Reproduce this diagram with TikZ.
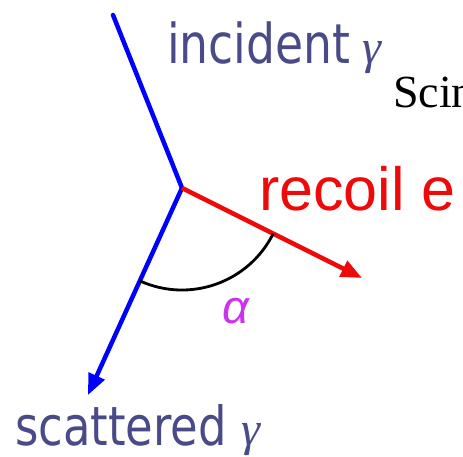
\documentclass[tikz,border=0pt]{standalone}
\usepackage{fontspec}
\usetikzlibrary{arrows.meta}
\newfontfamily\labelfont[FakeStretch=0.83]{DejaVu Sans}
\newfontfamily\recoilfont{Liberation Sans}
\newfontfamily\detfont{Liberation Serif}
\newcommand\grkfont{\detfont\itshape\fontsize{48}{48}\selectfont}

\definecolor{gamBlue}{HTML}{0000FF}
\definecolor{eleRed}{HTML}{EE0A0A}
\definecolor{txtSlate}{HTML}{4A4A88}
\definecolor{angMagenta}{HTML}{CC33EE}

\tikzset{
  photon/.style={gamBlue,line width=4.5pt},
  electron/.style={eleRed,line width=4.5pt},
  tip/.style={-{Triangle[length=21pt,width=17pt]}},
}

\begin{document}
\begin{tikzpicture}[x=1pt,y=-1pt]
  \useasboundingbox (0,0) rectangle (463,456);
  \clip (0,0) rectangle (463,456);

  % scattering point and track ends
  \coordinate (vtx) at (182,188);
  \coordinate (inc) at (113,15);
  \coordinate (rec) at (362,278);
  \coordinate (sca) at (88,395);

  \draw[photon,line cap=round] (inc) -- (vtx);
  \draw[photon,tip] (vtx) -- (sca);
  \draw[electron,tip] (vtx) -- (rec);

  % opening angle (y axis points down here)
  \draw[black,line width=2.8pt] ([shift={(114.4:102)}]vtx) arc[start angle=114.4,end angle=26.6,radius=102];
  \node[angMagenta,font=\recoilfont\itshape\fontsize{47}{47}\selectfont] (alpha) at (236,311) {α};

  \node[anchor=base west,inner sep=0pt,txtSlate,font=\labelfont\fontsize{55}{55}\selectfont] (inclbl) at (167,63)
    {incident\hspace{12pt}{\grkfont γ}};
  \node[anchor=base west,inner sep=0pt,txtSlate,font=\labelfont\fontsize{54}{54}\selectfont] (scalbl) at (15,445)
    {scattered\hspace{15pt}{\grkfont γ}};
  \node[anchor=base west,inner sep=0pt,eleRed,font=\recoilfont\fontsize{61}{61}\selectfont] (reclbl) at (259,210) {recoil e};
  \node[anchor=base west,inner sep=0pt,font=\detfont\fontsize{46}{46}\selectfont] (detlbl) at (393,107) {Scintillator};
\end{tikzpicture}
\end{document}
